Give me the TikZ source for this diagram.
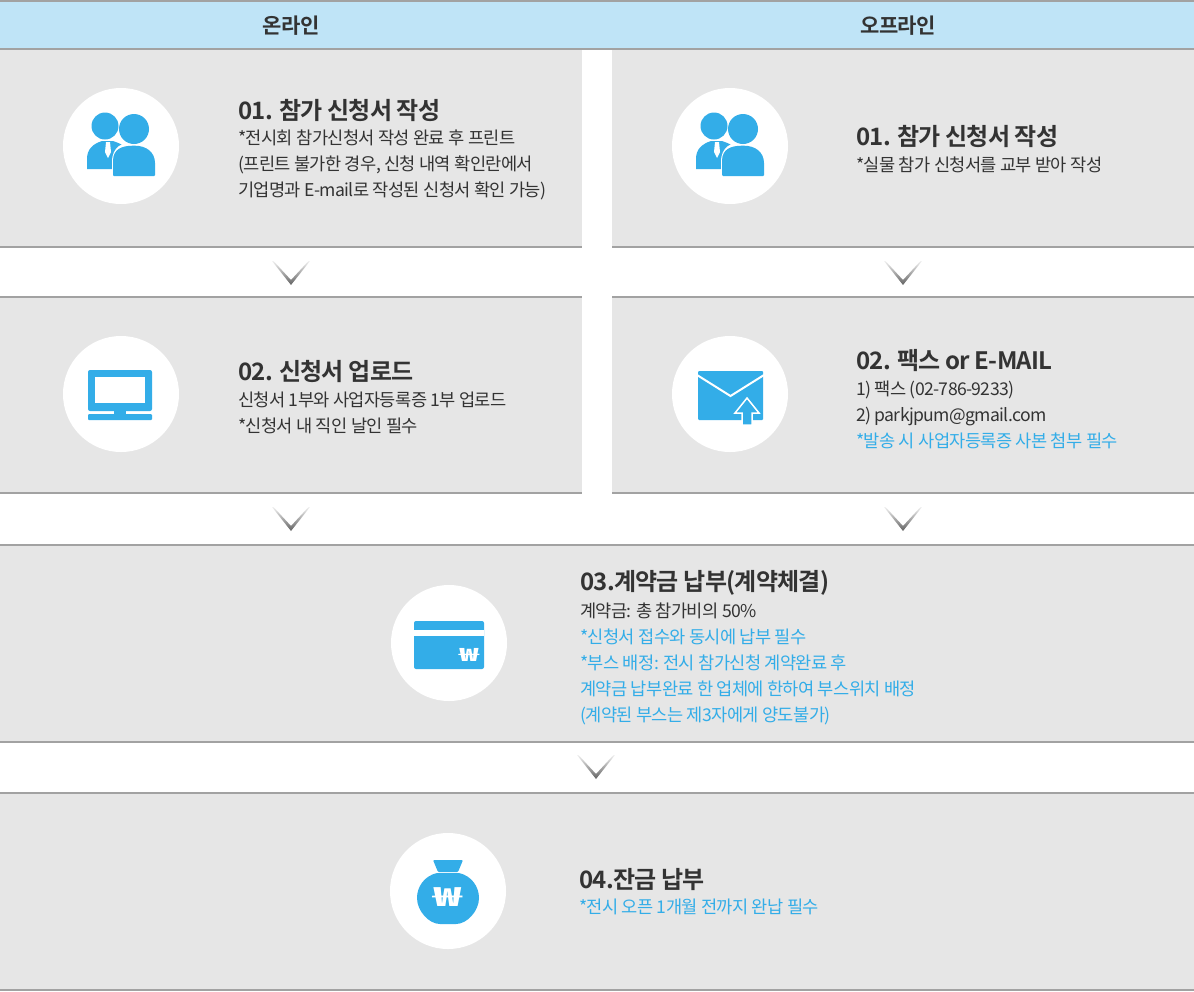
\documentclass[tikz,border=0pt]{standalone}
\usepackage{fontspec}
\setmainfont{Noto Sans CJK KR}
\newfontfamily\ttlfont[LetterSpace=-3,BoldFont={Noto Sans CJK KR Bold}]{Noto Sans CJK KR}
\newfontfamily\txtfont[LetterSpace=-3.5]{Noto Sans CJK KR}

\definecolor{panelgray}{HTML}{E6E6E6}
\definecolor{rulegray}{HTML}{A2A2A2}
\definecolor{headblue}{HTML}{BFE4F7}
\definecolor{iconblue}{HTML}{33ADE8}
\definecolor{inkgray}{HTML}{333333}

\tikzset{
    panel/.style={fill=panelgray},
    rulebar/.style={draw=rulegray,line width=2pt},
    iconbg/.style={circle,fill=white,minimum size=116pt,inner sep=0pt},
    headtext/.style={font=\ttlfont\bfseries\fontsize{21}{24}\selectfont,text=inkgray,inner sep=0pt},
    ttltext/.style={font=\ttlfont\bfseries\fontsize{24}{28}\selectfont,text=inkgray,inner sep=0pt,anchor=west},
    bodytext/.style={font=\txtfont\fontsize{17.6}{26}\selectfont,text=inkgray,inner sep=0pt,anchor=west,align=left},
    wontext/.style={font=\bfseries,text=white,inner sep=0pt},
    chevron/.pic={
        \shade [top color=black!6,bottom color=black!62]
            (-19,0) -- (-17.5,0) -- (0,19) -- (17.5,0) -- (19,0) -- (0,24) -- cycle;
    },
    people/.pic={
        \fill [iconblue] (-16,-20) circle (13.5);
        \fill [iconblue] (-34,23) -- (-34,13) .. controls (-34,3) and (-28,-2) .. (-19,-5) -- (-8,-5)
            .. controls (-2,-3) and (2,-1) .. (4,1) -- (-8,23) -- cycle;
        \fill [white] (-15,-4) -- (-11,-4) -- (-10,6) -- (-13,12) -- (-16,6) -- cycle;
        \fill [white] (-9,24) -- (-9,16) .. controls (-9,1) and (1,-4) .. (13,-4) .. controls (26,-4) and (36,5) .. (36,18) -- (36,32) -- (-9,32) -- cycle;
        \fill [iconblue] (13,-17) circle (15);
        \fill [white] (-10,31) rectangle (-7,24);
        \fill [iconblue,rounded corners=1pt] (-8,30) -- (-8,16) .. controls (-8,3) and (1,-0.3) .. (13,-0.3)
            .. controls (25,-0.3) and (34,6) .. (34,18) -- (34,30) -- cycle;
    },
    monitor/.pic={
        \fill [iconblue,rounded corners=2pt] (-33,-24) rectangle (31,17);
        \fill [white] (-26,-17) rectangle (24,9);
        \fill [iconblue] (-7,15) rectangle (5,21);
        \fill [iconblue,rounded corners=1pt] (-33,20) rectangle (31,26);
    },
    envelope/.pic={
        \fill [iconblue,rounded corners=1pt] (-32,-23) rectangle (33,26);
        \draw [white,line width=2pt] (-33,-19) -- (0.5,2) -- (34,-19);
        \fill [iconblue,draw=white,line width=1.5pt,line join=miter] (17,4) -- (29,19) -- (22,19) -- (22,31) -- (12,31) -- (12,19) -- (5,19) -- cycle;
        \fill [white] (9,27) rectangle (12,32);
        \fill [white] (22,27) rectangle (25,32);
    },
    card/.pic={
        \fill [iconblue,rounded corners=2pt] (-35,-22) rectangle (35,26);
        \fill [white] (-35,-13) rectangle (35,-7);
    },
    moneybag/.pic={
        \fill [iconblue,rounded corners=1pt] (-15,-31) -- (15,-31) -- (10,-19) -- (-10,-19) -- cycle;
        \fill [iconblue] (-11,-18) .. controls (-24,-15) and (-31,-4) .. (-31,7)
            .. controls (-31,20) and (-19,33) .. (-8,33) -- (8,33) .. controls (19,33) and (31,20) .. (31,7)
            .. controls (31,-4) and (24,-15) .. (11,-18) -- cycle;
    }
}

\begin{document}
\begin{tikzpicture}[x=1pt,y=-1pt]
    \useasboundingbox (0,0) rectangle (1194,991);

    % header band
    \fill [headblue] (0,0) rectangle (1194,49);
    \draw [rulebar] (0,1) -- (1194,1);
    \draw [rulebar] (0,49) -- (1194,49);
    \node [headtext] (headon) at (291,26) {온라인};
    \node [headtext] (headoff) at (898,26) {오프라인};

    % panels
    \fill [panel] (0,50) rectangle (582,247);
    \fill [panel] (612,50) rectangle (1194,247);
    \fill [panel] (0,297) rectangle (582,493);
    \fill [panel] (612,297) rectangle (1194,493);
    \fill [panel] (0,545) rectangle (1194,742);
    \fill [panel] (0,793) rectangle (1194,990);

    \draw [rulebar] (0,247) -- (582,247);
    \draw [rulebar] (612,247) -- (1194,247);
    \draw [rulebar] (0,297) -- (582,297);
    \draw [rulebar] (612,297) -- (1194,297);
    \draw [rulebar] (0,493) -- (582,493);
    \draw [rulebar] (612,493) -- (1194,493);
    \draw [rulebar] (0,545) -- (1194,545);
    \draw [rulebar] (0,742) -- (1194,742);
    \draw [rulebar] (0,793) -- (1194,793);
    \draw [rulebar] (0,990) -- (1194,990);

    \pic at (291,261) {chevron};
    \pic at (903,261) {chevron};
    \pic at (291,507) {chevron};
    \pic at (903,507) {chevron};
    \pic at (596,755) {chevron};

    % icons
    \node [iconbg] (bgonA) at (121,146) {};
    \node [iconbg] (bgoffA) at (730,146) {};
    \node [iconbg] (bgonB) at (121,394) {};
    \node [iconbg] (bgoffB) at (730,394) {};
    \node [iconbg] (bgpay) at (449,643) {};
    \node [iconbg] (bgrest) at (448,891) {};

    \pic at (bgonA) {people};
    \pic at (bgoffA) {people};
    \pic at (bgonB) {monitor};
    \pic at (bgoffB) {envelope};
    \pic at (bgpay) {card};
    \pic at (bgrest) {moneybag};
    \node [wontext,font=\bfseries\fontsize{18}{18}\selectfont] (wonpay) at (469,655) {\scalebox{1.8}[1]{₩}};
    \node [wontext,font=\bfseries\fontsize{26}{26}\selectfont] (wonrest) at (448,897) {\scalebox{1.8}[1]{₩}};

    % left column
    \node [ttltext] (ttlonA) at (238,110) {01. 참가 신청서 작성};
    \node [bodytext] (txtonA) at (238,164.5) {*전시회 참가신청서 작성 완료 후 프린트\\(프린트 불가한 경우, 신청 내역 확인란에서\\기업명과 E-mail로 작성된 신청서 확인 가능)};
    \node [ttltext] (ttlonB) at (238,371) {02. 신청서 업로드};
    \node [bodytext] (txtonB) at (238,412.5) {신청서 1부와 사업자등록증 1부 업로드\\*신청서 내 직인 날인 필수};

    % right column
    \node [ttltext] (ttloffA) at (856,136) {01. 참가 신청서 작성};
    \node [bodytext] (txtoffA) at (856,165) {*실물 참가 신청서를 교부 받아 작성};
    \node [ttltext] (ttloffB) at (856,361) {02. 팩스 or E-MAIL};
    \node [bodytext] (txtoffB) at (856,414.5) {1) 팩스 (02-786-9233)\\2) parkjpum@gmail.com\\\textcolor{iconblue}{*발송 시 사업자등록증 사본 첨부 필수}};

    % shared rows
    \node [ttltext] (ttlpay) at (580,583) {03.계약금 납부(계약체결)};
    \node [bodytext] (txtpay) at (580,664) {계약금: 총 참가비의 50\%\\\textcolor{iconblue}{*신청서 접수와 동시에 납부 필수}\\\textcolor{iconblue}{*부스 배정: 전시 참가신청 계약완료 후}\\\textcolor{iconblue}{계약금 납부완료 한 업체에 한하여 부스위치 배정}\\\textcolor{iconblue}{(계약된 부스는 제3자에게 양도불가)}};
    \node [ttltext] (ttlrest) at (579,879) {04.잔금 납부};
    \node [bodytext,text=iconblue] (txtrest) at (579,907) {*전시 오픈 1개월 전까지 완납 필수};
\end{tikzpicture}
\end{document}
